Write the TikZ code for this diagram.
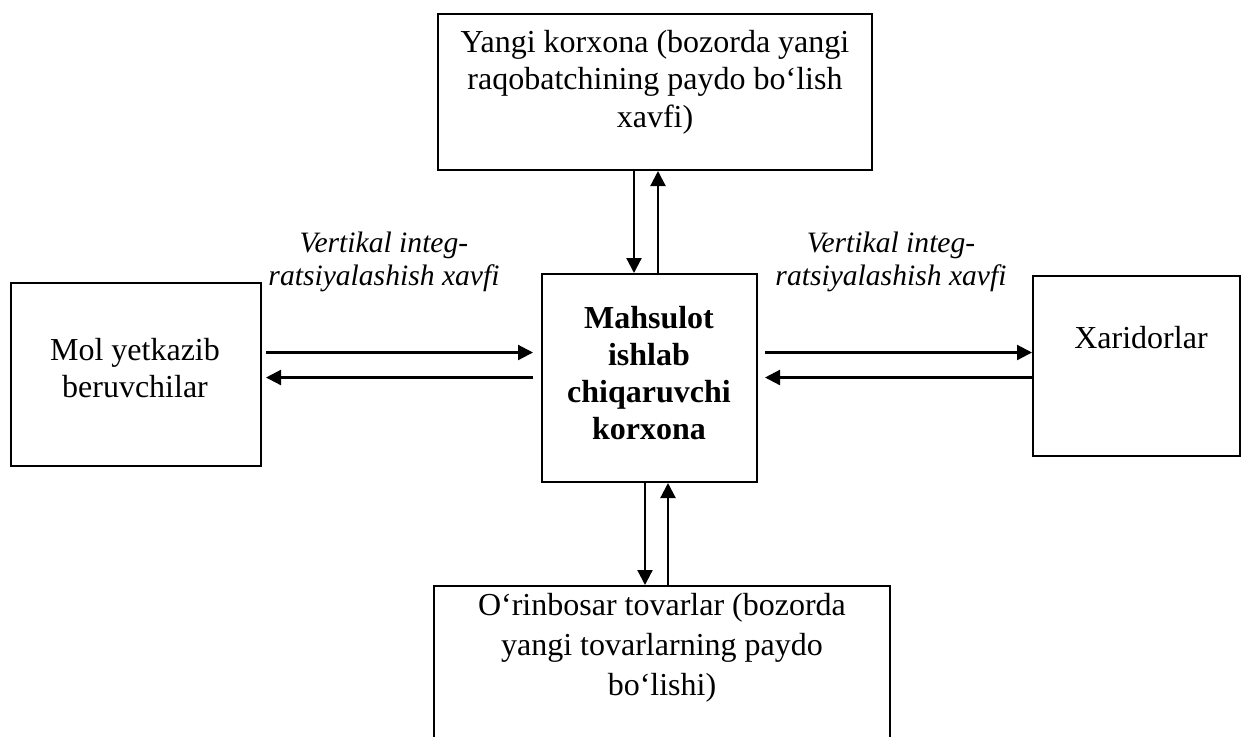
\documentclass[tikz,border=0pt]{standalone}
\usepackage{fontspec}
\setmainfont{Liberation Serif}
\usetikzlibrary{arrows.meta}
\begin{document}
\begin{tikzpicture}[x=0.5pt,y=-0.5pt,
  box/.style={draw, line width=1pt, inner sep=0pt},
  txt/.style={align=center, inner sep=0pt, font=\fontsize{16pt}{18.75pt}\selectfont},
  subtxt/.style={align=center, inner sep=0pt, font=\fontsize{16pt}{20pt}\selectfont},
  ctrtxt/.style={align=center, inner sep=0pt, font=\fontsize{16pt}{18.5pt}\selectfont\bfseries},
  lab/.style={align=center, inner sep=0pt, font=\fontsize{14.8pt}{16.5pt}\selectfont\itshape},
  arr/.style={line width=1.1pt, -{Triangle[length=7.5pt,width=7.5pt]}}]
\useasboundingbox (0,0) rectangle (1243,736);

% boxes
\node[box, minimum width=217pt, minimum height=78pt] (top) at (655,92) {};
\node[box, minimum width=125pt, minimum height=91.5pt] (sup) at (136,374.5) {};
\node[box, minimum width=107.5pt, minimum height=104pt] (ctr) at (649.5,378) {};
\node[box, minimum width=103.5pt, minimum height=90pt] (buy) at (1136.5,366) {};
\node[box, minimum width=228pt, minimum height=82pt] (sub) at (662,668) {};

% texts
\node[txt] (toptxt) at (655,82) {Yangi korxona (bozorda yangi\\raqobatchining paydo bo‘lish\\xavfi)};
\node[txt] (suptxt) at (135,368) {Mol yetkazib\\beruvchilar};
\node[ctrtxt] (ctrt) at (649,373) {Mahsulot\\ishlab\\chiqaruvchi\\korxona};
\node[txt] (buytxt) at (1141,338) {Xaridorlar};
\node[subtxt] (subt) at (662,648) {O‘rinbosar tovarlar (bozorda\\yangi tovarlarning paydo\\bo‘lishi)};
\node[lab] (labl) at (384,262) {Vertikal integ-\\ratsiyalashish xavfi};
\node[lab] (labr) at (891,262) {Vertikal integ-\\ratsiyalashish xavfi};

% arrow guide coordinates
\coordinate (a1) at (634,0);
\coordinate (a2) at (658,0);
\coordinate (a3) at (645,0);
\coordinate (a4) at (668,0);
\coordinate (h1) at (0,352.5);
\coordinate (h2) at (0,377.5);

% vertical arrows
\draw[arr] (a1 |- top.south) -- (a1 |- ctr.north);
\draw[arr] (a2 |- ctr.north) -- (a2 |- top.south);
\draw[arr] (a3 |- ctr.south) -- (a3 |- sub.north);
\draw[arr] (a4 |- sub.north) -- (a4 |- ctr.south);

% horizontal arrows
\draw[arr, shorten <=2pt, shorten >=4pt] (sup.east |- h1) -- (ctr.west |- h1);
\draw[arr, shorten <=4pt, shorten >=2pt] (ctr.west |- h2) -- (sup.east |- h2);
\draw[arr, shorten <=3.5pt] (ctr.east |- h1) -- (buy.west |- h1);
\draw[arr, shorten >=3.5pt] (buy.west |- h2) -- (ctr.east |- h2);
\end{tikzpicture}
\end{document}
